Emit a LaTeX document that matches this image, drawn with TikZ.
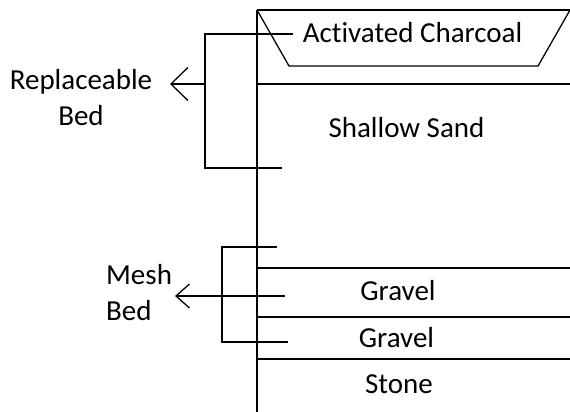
\documentclass[tikz,border=0pt]{standalone}
\usepackage{fontspec}
\setmainfont{Carlito}[Ligatures=NoCommon]
\usetikzlibrary{arrows.meta}
\begin{document}
\begin{tikzpicture}[x=1pt,y=-1pt,
  line/.style={draw=black,line width=1.3pt},
  lbl/.style={inner sep=0pt,anchor=base,font=\fontsize{29}{35.5}\selectfont},
  bigbarb/.style={-{Straight Barb[length=17pt,width=33pt]}},
  smallbarb/.style={-{Straight Barb[length=13.5pt,width=24pt]}}]
\useasboundingbox (0,0) rectangle (570,412);
% main column
\coordinate (mtop) at (257,10);
\coordinate (mbot) at (257,412);
\coordinate (rtop) at (570,10);
\coordinate (tbl) at (289,66);
\coordinate (tbr) at (538,66);
\coordinate (l1a) at (257,84);  \coordinate (l1b) at (570,84);
\coordinate (l2a) at (257,268); \coordinate (l2b) at (570,268);
\coordinate (l3a) at (257,317); \coordinate (l3b) at (570,317);
\coordinate (l4a) at (257,359); \coordinate (l4b) at (570,359);
\draw[line] (mtop) -- (mbot);
\draw[line] (mtop) -- (rtop);
\draw[line] (mtop) -- (tbl) -- (tbr) -- (rtop);
\draw[line] (l1a) -- (l1b);
\draw[line] (l2a) -- (l2b);
\draw[line] (l3a) -- (l3b);
\draw[line] (l4a) -- (l4b);
% texts
\node[lbl] (charcoal) at (412.5,43) {Activated Charcoal};
\node[lbl] (sand) at (406.5,137) {Shallow Sand};
\node[lbl] (gravel1) at (398,300.5) {Gravel};
\node[lbl] (gravel2) at (396.5,347) {Gravel};
\node[lbl] (stone) at (399,393) {Stone};
% replaceable bed bracket
\coordinate (rb1) at (293,34);
\coordinate (rb2) at (205,34);
\coordinate (rb3) at (205,168);
\coordinate (rb4) at (282,168);
\coordinate (rbm) at (205,84);
\coordinate (rbtip) at (170,84);
\draw[line] (rb1) -- (rb2) -- (rb3) -- (rb4);
\draw[line,bigbarb] (rbm) -- (rbtip);
\node[lbl,align=center] (replbed) at (81,125) {Replaceable\\Bed};
% mesh bed bracket
\coordinate (mb1) at (277,247);
\coordinate (mb2) at (222,247);
\coordinate (mb3) at (222,342);
\coordinate (mb4) at (288,342);
\coordinate (mbm) at (285,296);
\coordinate (mbtip) at (175,296);
\draw[line] (mb1) -- (mb2) -- (mb3) -- (mb4);
\draw[line,smallbarb] (mbm) -- (mbtip);
\node[lbl,align=left,anchor=base west] (meshbed) at (106,320) {Mesh\\Bed};
\end{tikzpicture}
\end{document}
